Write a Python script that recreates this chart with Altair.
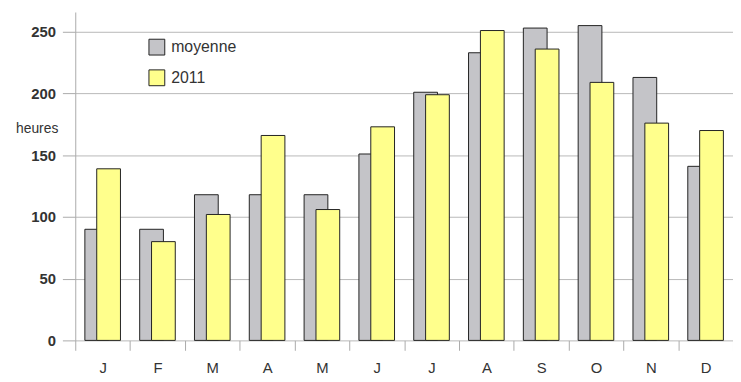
import altair as alt
import pandas as pd

mois = ["janvier", "février", "mars", "avril", "mai", "juin",
        "juillet", "août", "septembre", "octobre", "novembre", "décembre"]
moyenne = [90, 90, 118, 118, 118, 151, 201, 233, 253, 255, 213, 141]
annee_2011 = [139, 80, 102, 166, 106, 173, 199, 251, 236, 209, 176, 170]
series = ["moyenne", "2011"]
colors = ["#c4c4c8", "#ffff8c"]
y_ticks = [0, 50, 100, 150, 200, 250]

rows = []
for m, a, b in zip(mois, moyenne, annee_2011):
    rows.append({"mois": m, "serie": "moyenne", "heures": a})
    rows.append({"mois": m, "serie": "2011", "heures": b})
df = pd.DataFrame(rows)

x_enc = alt.X("mois:N", sort=mois,
              scale=alt.Scale(paddingInner=0, paddingOuter=0),
              axis=alt.Axis(title=None, labelExpr="upper(substring(datum.label,0,1))",
                            labelAngle=0, domain=False, tickBand="extent",
                            tickSize=10, tickColor="#aaaaaa", labelFontSize=15,
                            labelColor="#333333", labelPadding=10,
                            labelFont="Liberation Sans"))
y_enc = alt.Y("heures:Q",
              scale=alt.Scale(domain=[0, 266], nice=False),
              axis=alt.Axis(values=y_ticks, title="heures", titleAngle=0,
                            titleX=-39, titleY=118, titleAlign="center",
                            titleBaseline="middle", titleFontWeight="normal",
                            titleFontSize=14, titleColor="#333333",
                            titleFont="Liberation Sans",
                            labelFontSize=15, labelFontWeight="bold",
                            labelColor="#333333", labelFont="Liberation Sans",
                            tickSize=13, tickColor="#aaaaaa", labelPadding=7,
                            domainColor="#aaaaaa", gridColor="#b8b8b8"))
color_enc = alt.Color("serie:N",
                      scale=alt.Scale(domain=series, range=colors),
                      legend=alt.Legend(title=None, orient="none", legendX=74,
                                        legendY=27, symbolType="square",
                                        symbolSize=256, symbolStrokeColor="#222222",
                                        symbolStrokeWidth=1, labelFontSize=16,
                                        labelColor="#333333", labelFont="Liberation Sans",
                                        rowPadding=10, labelOffset=6))

base = alt.Chart(df).encode(x=x_enc, y=y_enc, color=color_enc)

grey = base.transform_filter(alt.datum.serie == "moyenne").mark_bar(
    width=24, xOffset=-6, stroke="#222222", strokeWidth=1)
yellow = base.transform_filter(alt.datum.serie == "2011").mark_bar(
    width=24, xOffset=6, stroke="#222222", strokeWidth=1)

chart = alt.layer(grey, yellow).properties(
    width=665, height=332,
    autosize=alt.AutoSizeParams(type="none"),
    padding={"left": 68, "top": 2, "right": 0, "bottom": 40},
    background="white",
).configure_view(stroke=None)

chart.save("out.html", embed_options={"renderer": "svg", "actions": False})
